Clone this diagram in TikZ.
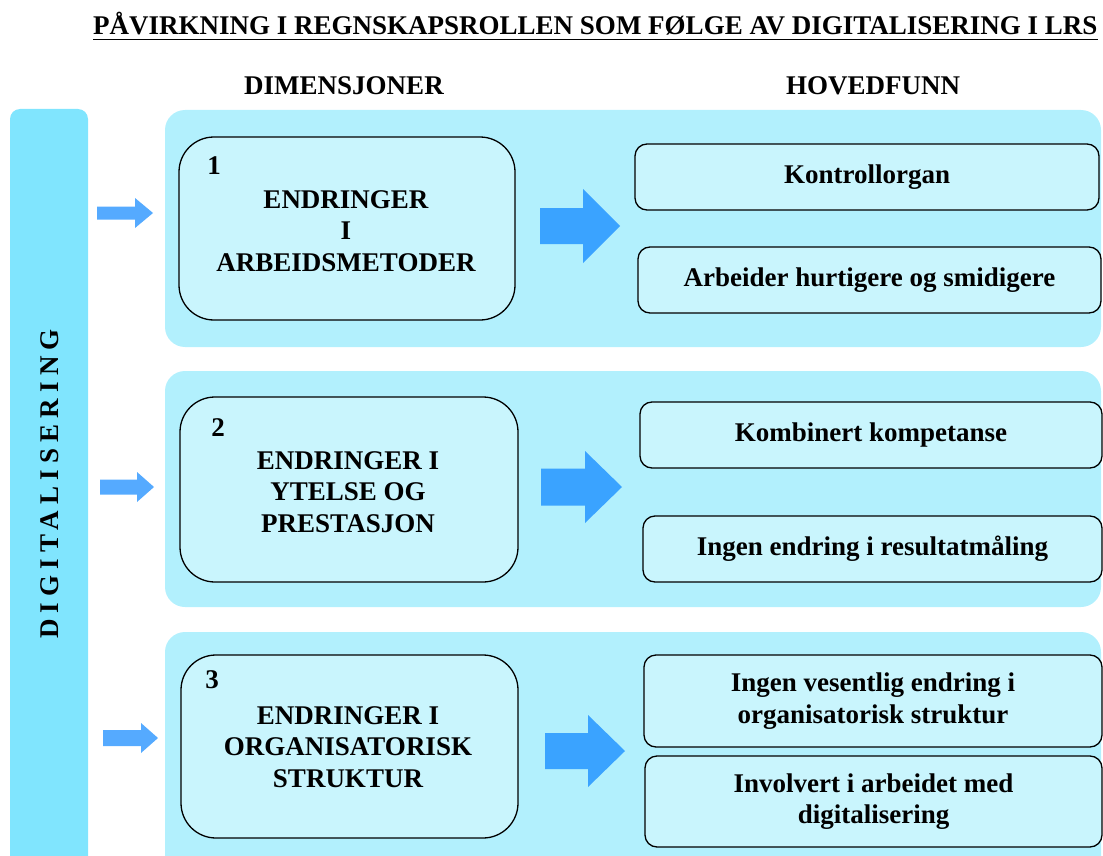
\documentclass[tikz,border=0pt]{standalone}
\usepackage{fontspec}
\setmainfont{Liberation Serif}
\definecolor{barc}{HTML}{80E5FE}
\definecolor{panelc}{HTML}{B2F0FD}
\definecolor{boxc}{HTML}{C9F5FD}
\definecolor{smallc}{HTML}{55AAFF}
\definecolor{bigc}{HTML}{3AA3FF}
\tikzset{
  pics/barrow/.style n args={4}{code={
    \path[pic actions] (0,-#3) -- (#1,-#3) -- (#1,-#4) -- (#2,0) -- (#1,#4) -- (#1,#3) -- (0,#3) -- cycle;}},
  panel/.style={fill=panelc, rounded corners=20pt},
  dimbox/.style={draw=black, line width=1.3pt, fill=boxc, rounded corners=35pt},
  findbox/.style={draw=black, line width=1.3pt, fill=boxc, rounded corners=12pt, align=center},
  txt/.style={align=center, inner sep=0pt},
}
\begin{document}
\begin{tikzpicture}[x=1pt,y=-1pt, font=\fontsize{27}{31.5}\selectfont\bfseries]
\useasboundingbox (0,0) rectangle (1103,856);
\clip (0,0) rectangle (1103,856);
% title
\node[anchor=base west, inner sep=0pt] (title) at (93,35) {PÅVIRKNING I REGNSKAPSROLLEN SOM FØLGE AV DIGITALISERING I LRS};
\draw[line width=1.8pt] ([yshift=-4.5pt]title.base west) -- ([yshift=-4.5pt]title.base east);
% headers
\node[txt] (hdim) at (344,86) {DIMENSJONER};
\node[txt] (hfun) at (873,86) {HOVEDFUNN};
% left bar
\fill[barc, rounded corners=10pt] (10,109) rectangle (88,880);
\node[txt, rotate=90] (dig) at (50,484) {\addfontfeature{LetterSpace=23}DIGITALISERING};
% panels
\path[panel] (165,110) rectangle (1101,347);
\path[panel] (165,371) rectangle (1101,607);
\path[panel] (165,632) rectangle (1101,890);
% dimension boxes
\node[dimbox, minimum width=336pt, minimum height=183pt] (d1) at (347,228.5) {};
\node[dimbox, minimum width=338pt, minimum height=185pt] (d2) at (349,489.5) {};
\node[dimbox, minimum width=337pt, minimum height=183pt] (d3) at (349.5,746.5) {};
\node[txt] (n1) at (214,166) {1};
\node[txt] (n2) at (218,428) {2};
\node[txt] (n3) at (212,680) {3};
\node[txt] (t1) at (346,231) {ENDRINGER\\I\\ARBEIDSMETODER};
\node[txt] (t2) at (348,492) {ENDRINGER I\\YTELSE OG\\PRESTASJON};
\node[txt] (t3) at (348,747) {ENDRINGER I\\ORGANISATORISK\\STRUKTUR};
% findings
\node[findbox, minimum width=464pt, minimum height=66pt] (f1a) at (867,177) {Kontrollorgan};
\node[findbox, minimum width=463pt, minimum height=66pt] (f1b) at (869.5,280) {Arbeider hurtigere og smidigere};
\node[findbox, minimum width=462pt, minimum height=66pt] (f2a) at (871,435) {Kombinert kompetanse};
\node[findbox, minimum width=459pt, minimum height=66pt] (f2b) at (872.5,549) {Ingen endring i resultatmåling};
\node[findbox, minimum width=458pt, minimum height=92pt] (f3a) at (873,701) {Ingen vesentlig endring i\\organisatorisk struktur};
\node[findbox, minimum width=457pt, minimum height=91pt] (f3b) at (873.5,801.5) {Involvert i arbeidet med\\digitalisering};
% small arrows
\pic[fill=smallc] (sa1) at (97,213) {barrow={38}{56}{6.5}{15}};
\pic[fill=smallc] (sa2) at (100,487) {barrow={37}{54}{7.5}{15}};
\pic[fill=smallc] (sa3) at (103,738) {barrow={38}{55}{8}{15}};
% big arrows
\pic[fill=bigc] (ba1) at (540,226) {barrow={43}{80}{18}{37}};
\pic[fill=bigc] (ba2) at (541,487) {barrow={44}{81}{18.5}{36}};
\pic[fill=bigc] (ba3) at (545,751) {barrow={43}{80}{18}{36}};
\end{tikzpicture}
\end{document}
